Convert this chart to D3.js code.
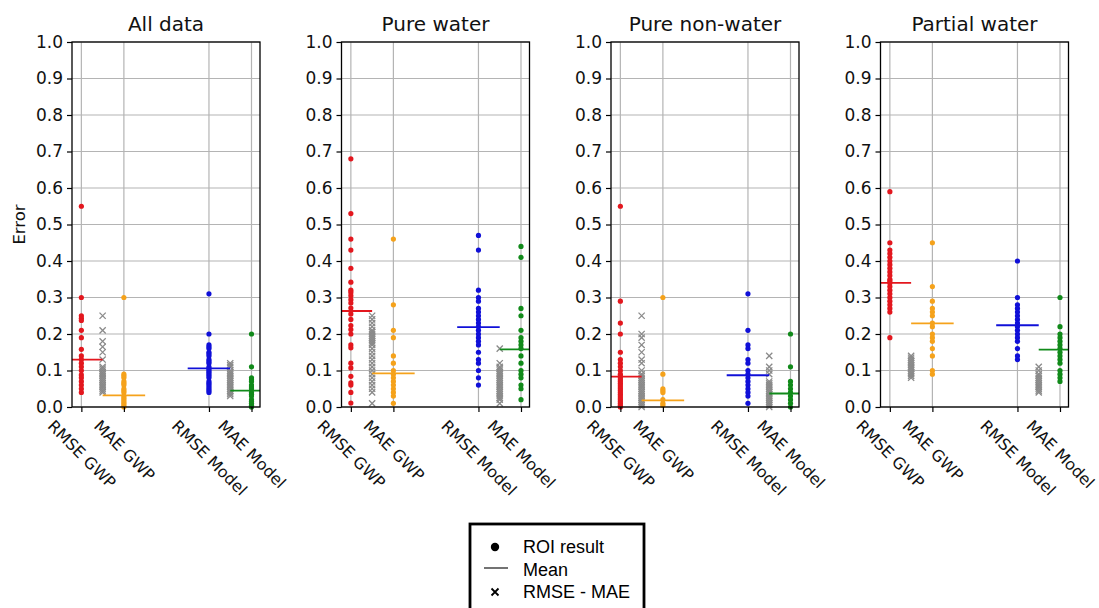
<!DOCTYPE html>
<html><head><meta charset="utf-8">
<script src="https://cdn.jsdelivr.net/npm/d3@7"></script>
<style>body{margin:0;background:#fff}svg{display:block}</style>
</head><body><svg id="c" width="1099" height="608"></svg>
<script>
// ---------- DATA ----------
const panelTitles = ["All data", "Pure water", "Pure non-water", "Partial water"];
const categories = ["RMSE GWP", "MAE GWP", "RMSE Model", "MAE Model"];
const categoryX = [0, 1, 3, 4];
const diffX = [0.5, 3.5];
const yTicks = [0, 0.1, 0.2, 0.3, 0.4, 0.5, 0.6, 0.7, 0.8, 0.9, 1.0];

// All data
const allRmseGwp = [0.55, 0.30, 0.25, 0.243, 0.237, 0.21, 0.19, 0.158, 0.14, 0.13, 0.12, 0.11, 0.10, 0.088, 0.08, 0.07, 0.06, 0.05, 0.04];
const allMaeGwp = [0.30, 0.09, 0.085, 0.08, 0.07, 0.065, 0.06, 0.05, 0.045, 0.04, 0.03, 0.025, 0.02, 0.015, 0.01, 0.005, 0.0];
const allRmseModel = [0.31, 0.20, 0.17, 0.165, 0.16, 0.15, 0.145, 0.14, 0.13, 0.125, 0.12, 0.11, 0.105, 0.10, 0.095, 0.09, 0.085, 0.08, 0.07, 0.065, 0.06, 0.055, 0.05, 0.045, 0.04];
const allMaeModel = [0.20, 0.11, 0.08, 0.075, 0.07, 0.06, 0.055, 0.05, 0.04, 0.035, 0.03, 0.02, 0.015, 0.01, 0.005, 0.0];
const allDiffGwp = [0.25, 0.21, 0.18, 0.165, 0.15, 0.13, 0.11, 0.105, 0.10, 0.095, 0.09, 0.085, 0.08, 0.075, 0.07, 0.065, 0.06, 0.055, 0.05, 0.045, 0.04];
const allDiffModel = [0.12, 0.115, 0.11, 0.10, 0.095, 0.09, 0.085, 0.08, 0.075, 0.07, 0.065, 0.06, 0.055, 0.05, 0.045, 0.04, 0.035, 0.03];
const allMeans = [0.13, 0.032, 0.106, 0.045];

// Pure water
const waterRmseGwp = [0.68, 0.53, 0.46, 0.43, 0.38, 0.342, 0.32, 0.314, 0.305, 0.294, 0.285, 0.271, 0.255, 0.24, 0.223, 0.212, 0.20, 0.17, 0.162, 0.12, 0.107, 0.084, 0.066, 0.06, 0.04, 0.011];
const waterMaeGwp = [0.46, 0.28, 0.21, 0.19, 0.14, 0.12, 0.10, 0.09, 0.08, 0.07, 0.06, 0.05, 0.04, 0.03, 0.01];
const waterRmseModel = [0.47, 0.43, 0.32, 0.30, 0.29, 0.27, 0.26, 0.25, 0.24, 0.23, 0.22, 0.21, 0.20, 0.19, 0.18, 0.17, 0.15, 0.13, 0.12, 0.10, 0.08, 0.06];
const waterMaeModel = [0.44, 0.41, 0.27, 0.25, 0.21, 0.19, 0.18, 0.17, 0.16, 0.14, 0.12, 0.10, 0.09, 0.08, 0.06, 0.05, 0.02];
const waterDiffGwp = [0.25, 0.24, 0.23, 0.22, 0.21, 0.205, 0.20, 0.195, 0.19, 0.185, 0.18, 0.175, 0.17, 0.16, 0.15, 0.14, 0.13, 0.12, 0.11, 0.10, 0.09, 0.08, 0.07, 0.06, 0.05, 0.04, 0.01];
const waterDiffModel = [0.16, 0.12, 0.11, 0.105, 0.10, 0.095, 0.09, 0.085, 0.08, 0.075, 0.07, 0.065, 0.06, 0.055, 0.05, 0.045, 0.04, 0.035, 0.03, 0.025, 0.02, 0.01];
const waterMeans = [0.263, 0.092, 0.219, 0.158];

// Pure non-water
const nonRmseGwp = [0.55, 0.29, 0.23, 0.20, 0.15, 0.13, 0.12, 0.11, 0.10, 0.09, 0.085, 0.08, 0.075, 0.07, 0.065, 0.06, 0.055, 0.05, 0.045, 0.04, 0.035, 0.03, 0.025, 0.02, 0.015, 0.01, 0.005, 0.0];
const nonMaeGwp = [0.30, 0.09, 0.05, 0.045, 0.04, 0.02, 0.01, 0.005];
const nonRmseModel = [0.31, 0.21, 0.17, 0.16, 0.13, 0.12, 0.10, 0.09, 0.08, 0.07, 0.06, 0.05, 0.04, 0.03, 0.01];
const nonMaeModel = [0.20, 0.11, 0.07, 0.06, 0.05, 0.04, 0.03, 0.02, 0.01, 0.0];
const nonDiffGwp = [0.25, 0.20, 0.19, 0.17, 0.15, 0.13, 0.12, 0.10, 0.09, 0.085, 0.08, 0.075, 0.07, 0.065, 0.06, 0.055, 0.05, 0.045, 0.04, 0.035, 0.03, 0.025, 0.02, 0.015, 0.01, 0.005, 0.0];
const nonDiffModel = [0.14, 0.11, 0.10, 0.09, 0.07, 0.065, 0.06, 0.055, 0.05, 0.045, 0.04, 0.035, 0.03, 0.025, 0.02, 0.015, 0.01, 0.005, 0.0];
const nonMeans = [0.083, 0.018, 0.087, 0.037];

// Partial water
const partRmseGwp = [0.59, 0.45, 0.43, 0.42, 0.41, 0.40, 0.39, 0.38, 0.37, 0.36, 0.35, 0.345, 0.34, 0.33, 0.32, 0.31, 0.30, 0.29, 0.28, 0.27, 0.26, 0.19];
const partMaeGwp = [0.45, 0.33, 0.29, 0.27, 0.26, 0.25, 0.23, 0.22, 0.20, 0.19, 0.18, 0.16, 0.14, 0.10, 0.09];
const partRmseModel = [0.40, 0.30, 0.28, 0.27, 0.26, 0.25, 0.24, 0.23, 0.22, 0.21, 0.20, 0.19, 0.18, 0.16, 0.14, 0.13];
const partMaeModel = [0.30, 0.22, 0.20, 0.19, 0.18, 0.17, 0.16, 0.15, 0.14, 0.13, 0.12, 0.10, 0.09, 0.08, 0.07];
const partDiffGwp = [0.14, 0.135, 0.13, 0.125, 0.12, 0.115, 0.11, 0.105, 0.10, 0.095, 0.09, 0.085, 0.08];
const partDiffModel = [0.11, 0.10, 0.09, 0.085, 0.08, 0.075, 0.07, 0.065, 0.06, 0.055, 0.05, 0.045, 0.04];
const partMeans = [0.34, 0.229, 0.224, 0.157];

const seriesColors = ["#e3171e", "#f5a21b", "#1010d8", "#118a1a"];
const diffColor = "#8a8a8a";

const panelData = [
  {vals: [allRmseGwp, allMaeGwp, allRmseModel, allMaeModel], diffs: [allDiffGwp, allDiffModel], means: allMeans},
  {vals: [waterRmseGwp, waterMaeGwp, waterRmseModel, waterMaeModel], diffs: [waterDiffGwp, waterDiffModel], means: waterMeans},
  {vals: [nonRmseGwp, nonMaeGwp, nonRmseModel, nonMaeModel], diffs: [nonDiffGwp, nonDiffModel], means: nonMeans},
  {vals: [partRmseGwp, partMaeGwp, partRmseModel, partMaeModel], diffs: [partDiffGwp, partDiffModel], means: partMeans}
];

// ---------- LAYOUT ----------
const svg = d3.select("#c");
const font = "'DejaVu Sans', sans-serif";
const yTop = 42, yBottom = 407, pw = 188, firstLeft = 72, step = 269.5;
const y = d3.scaleLinear().domain([0, 1]).range([yBottom, yTop]);

panelData.forEach((pd, p) => {
  const left = firstLeft + p * step;
  const x = d3.scaleLinear().domain([-0.22, 4.2]).range([left, left + pw]);
  const g = svg.append("g");
  const clipId = "clip" + p;
  svg.append("clipPath").attr("id", clipId).append("rect")
    .attr("x", left).attr("y", yTop).attr("width", pw).attr("height", yBottom - yTop);

  // grid
  g.append("g").selectAll("line").data(yTicks).join("line")
    .attr("x1", left).attr("x2", left + pw).attr("y1", d => y(d)).attr("y2", d => y(d))
    .attr("stroke", "#b4b4b4").attr("stroke-width", 1.2);
  g.append("g").selectAll("line").data(categoryX).join("line")
    .attr("y1", yTop).attr("y2", yBottom).attr("x1", d => x(d)).attr("x2", d => x(d))
    .attr("stroke", "#b4b4b4").attr("stroke-width", 1.2);

  // points
  pd.vals.forEach((arr, k) => {
    g.append("g").selectAll("circle").data(arr).join("circle")
      .attr("cx", x(categoryX[k])).attr("cy", d => y(d)).attr("r", 2.6)
      .attr("fill", seriesColors[k]);
  });
  // RMSE - MAE crosses
  pd.diffs.forEach((arr, k) => {
    const cx = x(diffX[k]); const s = 3.1;
    g.append("g").selectAll("path").data(arr).join("path")
      .attr("d", d => `M${cx - s},${y(d) - s}L${cx + s},${y(d) + s}M${cx - s},${y(d) + s}L${cx + s},${y(d) - s}`)
      .attr("stroke", diffColor).attr("stroke-width", 1.3).attr("fill", "none");
  });
  // means
  g.append("g").attr("clip-path", `url(#${clipId})`).selectAll("line").data(pd.means).join("line")
    .attr("x1", (d, k) => x(categoryX[k] - 0.5)).attr("x2", (d, k) => x(categoryX[k] + 0.5))
    .attr("y1", d => y(d)).attr("y2", d => y(d))
    .attr("stroke", (d, k) => seriesColors[k]).attr("stroke-width", 1.8);

  // frame
  g.append("rect").attr("x", left).attr("y", yTop).attr("width", pw).attr("height", yBottom - yTop)
    .attr("fill", "none").attr("stroke", "#000").attr("stroke-width", 1.3);

  // y axis
  const ya = g.append("g").attr("transform", `translate(${left},0)`)
    .call(d3.axisLeft(y).tickValues(yTicks).tickFormat(d3.format(".1f")).tickSize(5).tickPadding(4));
  ya.select(".domain").remove();
  ya.selectAll("line").attr("stroke", "#000").attr("stroke-width", 1.2);
  ya.selectAll("text").attr("font-family", font).attr("font-size", 17).attr("fill", "#111");

  // x axis
  const xa = g.append("g").attr("transform", `translate(0,${yBottom})`)
    .call(d3.axisBottom(x).tickValues(categoryX).tickFormat((d, i) => categories[i]).tickSize(5));
  xa.select(".domain").remove();
  xa.selectAll("line").attr("stroke", "#000").attr("stroke-width", 1.2);
  xa.selectAll(".tick text").each(function () {
    const t = d3.select(this);
    t.attr("font-family", font).attr("font-size", 16).attr("fill", "#111")
      .attr("text-anchor", "middle").attr("dy", null).attr("y", null)
      .attr("dominant-baseline", "central");
    const L = this.getComputedTextLength();
    const h = 16 * 1.1;
    const half = (L + h) * Math.SQRT1_2 / 2;
    t.attr("transform", `translate(0,${10 + half}) rotate(45)`);
  });

  // title
  svg.append("text").attr("x", left + pw / 2).attr("y", 31).attr("text-anchor", "middle")
    .attr("font-family", font).attr("font-size", 20).attr("fill", "#111").text(panelTitles[p]);
});

// y label
svg.append("text").attr("transform", `translate(25,${(yTop + yBottom) / 2}) rotate(-90)`)
  .attr("text-anchor", "middle").attr("font-family", font).attr("font-size", 16.5).attr("fill", "#111").text("Error");

// legend
const lg = svg.append("g");
const lfont = "'Liberation Sans', Arial, sans-serif";
lg.append("rect").attr("x", 470).attr("y", 524).attr("width", 174).attr("height", 100)
  .attr("fill", "#fff").attr("stroke", "#000").attr("stroke-width", 2.8);
lg.append("circle").attr("cx", 495).attr("cy", 547).attr("r", 4.2).attr("fill", "#000");
lg.append("line").attr("x1", 484).attr("x2", 508).attr("y1", 568).attr("y2", 568).attr("stroke", "#000").attr("stroke-width", 1.1);
lg.append("path").attr("d", "M491.5,588.5L498.5,595.5M491.5,595.5L498.5,588.5").attr("stroke", "#000").attr("stroke-width", 1.8);
const legendLabels = ["ROI result", "Mean", "RMSE - MAE"];
lg.selectAll("text.l").data(legendLabels).join("text").attr("class", "l")
  .attr("x", 523).attr("y", (d, i) => 553 + i * 22.5)
  .attr("font-family", lfont).attr("font-size", 18).attr("fill", "#000").text(d => d);
</script></body></html>
